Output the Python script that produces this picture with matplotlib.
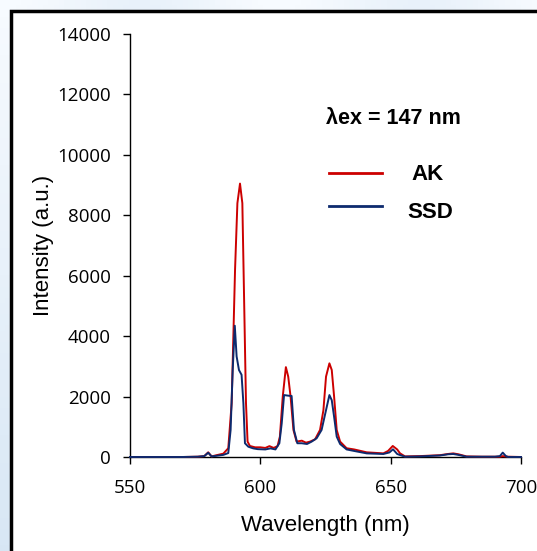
import numpy as np
import matplotlib.pyplot as plt
from matplotlib.patches import Rectangle

# emission spectra (wavelength nm, intensity a.u.)
wl_ak = [550, 560, 570, 576, 578.5, 580, 581.3, 583.2, 585.8, 587.7, 589, 590.3, 591.2, 592.2,
         593.1, 593.8, 594.5, 595.1, 596, 598, 600, 601.9, 603.5, 605.1, 606.6, 607.5, 608.6,
         609.8, 610.7, 611.6, 612.7, 613.9, 615.9, 617.5, 619.1, 621, 622.9, 624.2, 625.2, 626.5,
         627.4, 628.3, 629.3, 630.6, 633.1, 636, 640.8, 647.2, 649, 650.8, 652.5, 653.6, 655.5,
         661.2, 668.9, 672, 674, 676, 679.1, 685, 691.9, 693, 695, 700]
int_ak = [0, 0, 0, 10, 30, 155, 20, 60, 110, 290, 1780, 6200, 8400, 9050,
          8400, 5100, 1780, 510, 365, 320, 320, 300, 360, 300, 360, 675, 2000,
          2975, 2660, 2000, 895, 510, 540, 475, 510, 585, 895, 1550, 2660, 3100,
          2880, 2000, 895, 510, 290, 250, 155, 120, 200, 365, 250, 120, 20,
          30, 60, 100, 120, 90, 20, 10, 10, 30, 10, 0]

wl_ssd = [550, 560, 570, 576, 578.5, 580, 581.3, 583.2, 585.8, 587.7, 588.6, 589.4, 590.2, 590.9,
          591.8, 592.8, 593.5, 594.1, 595.4, 597.3, 599, 601.9, 603.9, 605.8, 607.3, 608.2, 609.1,
          610.7, 612, 612.9, 614.2, 615.9, 617.9, 619.7, 621.6, 623.5, 625.2, 626.5, 627.4, 628.3,
          629.3, 630.6, 633.1, 636, 640.8, 647.2, 649.5, 650.9, 652.5, 653.6, 655.5, 661.2, 668.9,
          672, 674, 676, 679.1, 690, 691.9, 693, 694.2, 695, 700]
int_ssd = [0, 0, 0, 10, 30, 140, 20, 40, 70, 130, 895, 2880, 4345, 3330,
           2880, 2720, 1780, 455, 340, 285, 260, 250, 285, 250, 455, 1110, 2050,
           2030, 2020, 895, 455, 455, 430, 510, 620, 895, 1550, 2050, 1880, 1330,
           675, 430, 250, 200, 120, 100, 150, 255, 100, 65, 10, 20, 50,
           90, 100, 70, 10, 10, 30, 145, 30, 0, 0]

xticks = [550, 600, 650, 700]
yticks = [0, 2000, 4000, 6000, 8000, 10000, 12000, 14000]

red = '#cc0000'
navy = '#0d2a6e'

plt.rcParams['font.family'] = ['Open Sans', 'DejaVu Sans']

fig = plt.figure(figsize=(5.37, 5.51), dpi=100)

# light blue slide background with a white framed panel
bg = fig.add_axes([0, 0, 1, 1], zorder=-10)
gy, gx = np.mgrid[0:1:100j, 0:1:100j]
grad = 0.55 * gy + 0.25 * np.sin(gx * 6) ** 2
bg.imshow(grad, cmap='Blues', vmin=0, vmax=3.5, aspect='auto', extent=[0, 1, 0, 1])
bg.add_patch(Rectangle((11 / 537, -0.1), 1.2, 1 - 11 / 551 + 0.1, transform=bg.transAxes,
                       facecolor='white', edgecolor='black', linewidth=2.5))
bg.set_xlim(0, 1)
bg.set_ylim(0, 1)
bg.axis('off')

ax = fig.add_axes([130 / 537, 1 - 457 / 551, (521 - 130) / 537, (457 - 34) / 551])
ax.patch.set_alpha(0)

ax.plot(wl_ak, int_ak, color=red, lw=1.4, clip_on=False, zorder=3)
ax.plot(wl_ssd, int_ssd, color=navy, lw=1.4, clip_on=False, zorder=4)

ax.set_xlim(550, 700)
ax.set_ylim(0, 14000)
ax.set_xticks(xticks)
ax.set_yticks(yticks)
ax.spines['top'].set_visible(False)
ax.spines['right'].set_visible(False)
for s in ['left', 'bottom']:
    ax.spines[s].set_linewidth(1.0)
ax.tick_params(direction='out', length=5, width=1.0, labelsize=13.5)
ax.tick_params(axis='y', pad=9)
ax.tick_params(axis='x', pad=11)

ax.set_xlabel('Wavelength (nm)', fontsize=16, family='Liberation Sans', va='center')
ax.set_ylabel('Intensity (a.u.)', fontsize=16, family='Liberation Sans', va='center')
ax.xaxis.set_label_coords(0.5, -0.161)
ax.yaxis.set_label_coords(-0.22, 0.5)

# annotation and hand-drawn legend
fig.text(393 / 537, 1 - 119 / 551, 'λex = 147 nm', ha='center', va='center',
         fontsize=15.5, fontweight='bold', family='Liberation Sans')
fig.text(428 / 537, 1 - 175 / 551, 'AK', ha='center', va='center', fontsize=16,
         fontweight='bold', family='Liberation Sans')
fig.text(430 / 537, 1 - 212 / 551, 'SSD', ha='center', va='center', fontsize=16,
         fontweight='bold', family='Liberation Sans')
fig.add_artist(plt.Line2D([329 / 537, 382 / 537], [1 - 173 / 551] * 2, color=red, lw=2))
fig.add_artist(plt.Line2D([329 / 537, 382 / 537], [1 - 206 / 551] * 2, color=navy, lw=2))

fig.savefig('out.png', dpi=100)
